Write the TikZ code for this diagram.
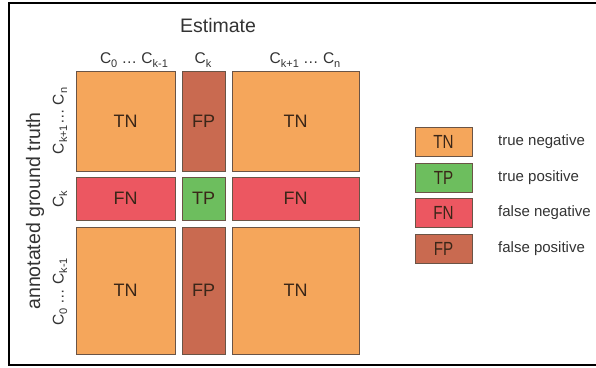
\documentclass[tikz,border=0pt]{standalone}
\usepackage{fontspec}
\setmainfont{Liberation Sans}
\definecolor{cTN}{HTML}{F5A65B}
\definecolor{cFP}{HTML}{C96A50}
\definecolor{cTP}{HTML}{6DBE5E}
\definecolor{cFN}{HTML}{EC5761}
\definecolor{cEdge}{HTML}{6A5446}
\definecolor{cTxt}{HTML}{3A2618}
\definecolor{cLab}{HTML}{333333}
\newcommand{\sbs}[1]{\raisebox{-0.22em}{\fontsize{11}{12}\selectfont #1}}
\tikzset{
  cell/.style={draw=cEdge, line width=0.9pt, inner sep=0pt, text=cTxt,
    font=\fontsize{18}{20}\selectfont},
  legbox/.style={draw=cEdge, line width=0.9pt, inner sep=0pt, text=cTxt,
    minimum width=57pt, minimum height=29pt, font=\fontsize{19}{21}\selectfont},
  legtxt/.style={anchor=west, inner sep=0pt, text=cLab, font=\fontsize{15}{17}\selectfont},
  collab/.style={inner sep=0pt, text=cLab, font=\fontsize{15.5}{17}\selectfont},
  rowlab/.style={inner sep=0pt, text=cLab, rotate=90, font=\fontsize{15.5}{17}\selectfont},
  title/.style={inner sep=0pt, text=cLab, font=\fontsize{19.5}{22}\selectfont}
}
\begin{document}
\begin{tikzpicture}[x=1pt,y=-1pt]
\useasboundingbox (0,0) rectangle (596,367);
% frame
\coordinate (fa) at (9,365);
\coordinate (fb) at (9,3);
\coordinate (fc) at (596,3);
\coordinate (fd) at (596,365);
\draw[line width=2pt, black] (fc) -- (fb) -- (fa) -- (fd);
% titles
\node[title] (est) at (218,26) {Estimate};
\node[title, rotate=90] (agt) at (35,211) {annotated ground truth};
% column labels
\node[collab] (c1) at (134,60) {C\sbs{0} … C\sbs{k-1}};
\node[collab] (c2) at (203,60) {C\sbs{k}};
\node[collab] (c3) at (305,60) {C\sbs{k+1} … C\sbs{n}};
% row labels
\node[rowlab] (r1) at (60,121) {C\sbs{k+1}… C\sbs{n}};
\node[rowlab] (r2) at (60,199) {C\sbs{k}};
\node[rowlab] (r3) at (60,292) {C\sbs{0} … C\sbs{k-1}};
% matrix cells
\node[cell, fill=cTN, minimum width=99pt, minimum height=100pt] (tn11) at (125.5,121) {TN};
\node[cell, fill=cFP, minimum width=43pt, minimum height=100pt] (fp12) at (203.5,121) {FP};
\node[cell, fill=cTN, minimum width=127pt, minimum height=100pt] (tn13) at (295.5,121) {TN};
\node[cell, fill=cFN, minimum width=99pt, minimum height=43pt] (fn21) at (125.5,198.5) {FN};
\node[cell, fill=cTP, minimum width=43pt, minimum height=43pt] (tp22) at (203.5,198.5) {TP};
\node[cell, fill=cFN, minimum width=127pt, minimum height=43pt] (fn23) at (295.5,198.5) {FN};
\node[cell, fill=cTN, minimum width=99pt, minimum height=127pt] (tn31) at (125.5,290.5) {TN};
\node[cell, fill=cFP, minimum width=43pt, minimum height=127pt] (fp32) at (203.5,290.5) {FP};
\node[cell, fill=cTN, minimum width=127pt, minimum height=127pt] (tn33) at (295.5,290.5) {TN};
% legend
\node[legbox, fill=cTN] (lTN) at (443.5,142) {\scalebox{0.8}[1]{TN}};
\node[legbox, fill=cTP] (lTP) at (443.5,177.5) {\scalebox{0.8}[1]{TP}};
\node[legbox, fill=cFN] (lFN) at (443.5,212.5) {\scalebox{0.8}[1]{FN}};
\node[legbox, fill=cFP] (lFP) at (443.5,248.5) {\scalebox{0.8}[1]{FP}};
\node[legtxt] (tTN) at (498,142) {true negative};
\node[legtxt] (tTP) at (498,177.5) {true positive};
\node[legtxt] (tFN) at (498,212.5) {false negative};
\node[legtxt] (tFP) at (498,248.5) {false positive};
\end{tikzpicture}
\end{document}
